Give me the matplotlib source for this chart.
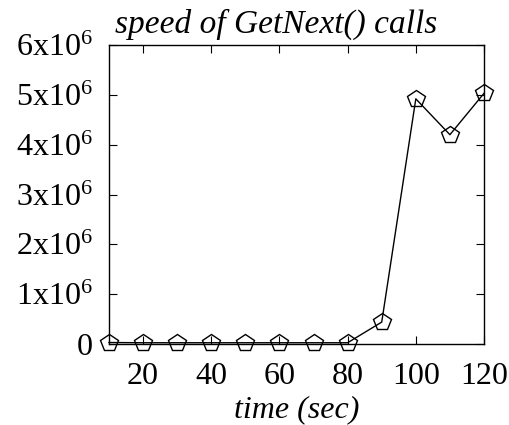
import numpy as np
import matplotlib
matplotlib.use('Agg')
import matplotlib.pyplot as plt

plt.rcParams['font.family'] = 'Liberation Serif'
plt.rcParams['mathtext.fontset'] = 'custom'
plt.rcParams['mathtext.rm'] = 'Liberation Serif'
plt.rcParams['mathtext.it'] = 'Liberation Serif:italic'

# data
time_sec = [10, 20, 30, 40, 50, 60, 70, 80, 90, 100, 110, 120]
speed = [30000, 25000, 25000, 25000, 25000, 25000, 25000, 25000,
         440000, 4920000, 4200000, 5030000]
ytick_vals = [0, 1e6, 2e6, 3e6, 4e6, 5e6, 6e6]
ytick_labels = ['0'] + [r'%dx10$^{6}$' % i for i in range(1, 7)]
xtick_vals = [20, 40, 60, 80, 100, 120]

fig = plt.figure(figsize=(5.09, 4.25), dpi=100)
ax = fig.add_axes([109/509, (425-344)/425, 375/509, 299/425])

ax.plot(time_sec, speed, '-', color='black', lw=1.0,
        marker='p', markersize=13, markerfacecolor='none',
        markeredgecolor='black', markeredgewidth=1.0, clip_on=False)

ax.set_xlim(10, 120)
ax.set_ylim(0, 6e6)
ax.set_xticks(xtick_vals)
ax.set_yticks(ytick_vals)
ax.set_yticklabels(ytick_labels)
ax.tick_params(direction='in', top=True, right=True, length=6,
               labelsize=23)
ax.tick_params(axis='x', pad=13)
ax.tick_params(axis='y', pad=12)
for s in ax.spines.values():
    s.set_linewidth(1.0)

ax.set_xlabel('time (sec)', fontsize=23, style='italic', labelpad=3)
# title sits a bit left of the axes centre in the original
ax.set_title('speed of GetNext() calls', fontsize=24, style='italic',
             pad=9, x=0.445)

plt.savefig('out.png', dpi=100)
